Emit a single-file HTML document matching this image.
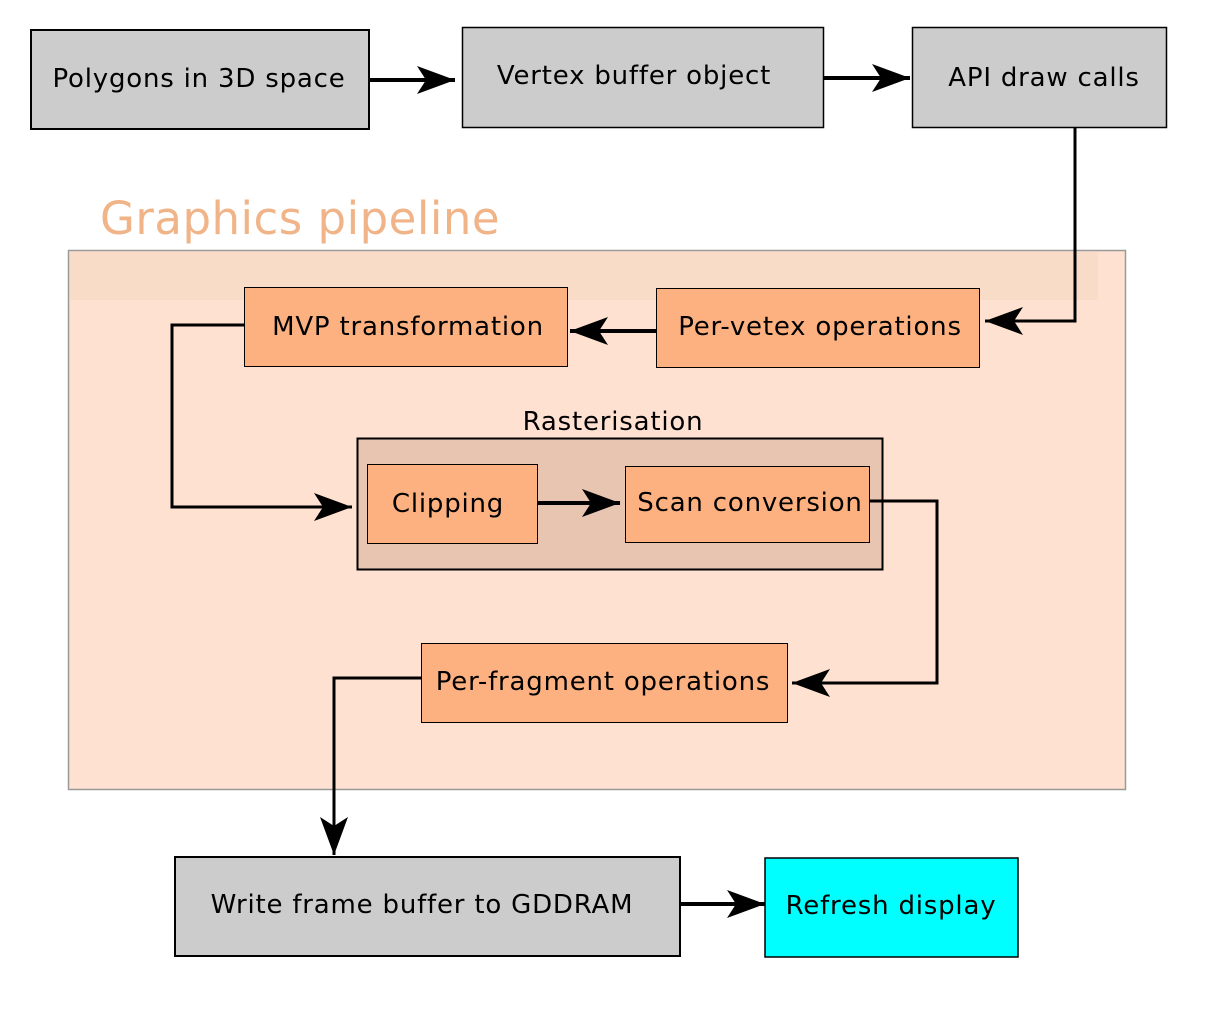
<!DOCTYPE html>
<html><head><meta charset="utf-8"><style>
html,body{margin:0;padding:0;background:#fff;}
svg text{font-family:"DejaVu Sans","Liberation Sans",sans-serif;}
</style></head><body>
<svg width="1224" height="1022" viewBox="0 0 1224 1022" xmlns="http://www.w3.org/2000/svg">
<defs>
<marker id="ah" markerWidth="40" markerHeight="30" refX="38" refY="14" orient="auto" markerUnits="userSpaceOnUse">
<path d="M0,0 L38,14 L0,28 L9,14 Z" fill="#000"/>
</marker>
</defs>
<g font-size="26" letter-spacing="0.8">
<rect x="31" y="30" width="338" height="99" fill="#cccccc" stroke="#000" stroke-width="2"/>
<text x="199" y="87" text-anchor="middle">Polygons in 3D space</text>
<rect x="462.5" y="27.5" width="361" height="100" fill="#cccccc" stroke="#000" stroke-width="1.5"/>
<text x="634" y="84" text-anchor="middle">Vertex buffer object</text>
<rect x="912.5" y="27.5" width="254" height="100" fill="#cccccc" stroke="#000" stroke-width="1.5"/>
<text x="1044" y="86" text-anchor="middle">API draw calls</text>
<line x1="369" y1="80" x2="455" y2="80" stroke="#000" stroke-width="4" marker-end="url(#ah)"/>
<line x1="824" y1="78" x2="910" y2="78" stroke="#000" stroke-width="4" marker-end="url(#ah)"/>
<text x="100" y="234" font-size="45" letter-spacing="0.5" fill="#f0b488">Graphics pipeline</text>
<rect x="68.5" y="250.5" width="1057" height="539" fill="#fee1d1" stroke="#999" stroke-width="1.5"/>
<rect x="70" y="252" width="1028" height="48" fill="#f9dcc8"/>
<polyline points="1075,128 1075,321 985,321" fill="none" stroke="#000" stroke-width="3" marker-end="url(#ah)"/>
<rect x="244.5" y="287.5" width="323" height="79" fill="#fdb181" stroke="#000" stroke-width="1"/>
<text x="408" y="335" text-anchor="middle">MVP transformation</text>
<rect x="656.5" y="288.5" width="323" height="79" fill="#fdb181" stroke="#000" stroke-width="1"/>
<text x="820" y="335" text-anchor="middle">Per-vetex operations</text>
<line x1="656" y1="331" x2="570" y2="331" stroke="#000" stroke-width="4" marker-end="url(#ah)"/>
<text x="613" y="430" text-anchor="middle">Rasterisation</text>
<rect x="357.5" y="438.5" width="525" height="131" fill="#e8c5b0" stroke="#000" stroke-width="2"/>
<rect x="367.5" y="464.5" width="170" height="79" fill="#fdb181" stroke="#000" stroke-width="1"/>
<text x="448" y="512" text-anchor="middle">Clipping</text>
<rect x="625.5" y="466.5" width="244" height="76" fill="#fdb181" stroke="#000" stroke-width="1"/>
<text x="750" y="511" text-anchor="middle">Scan conversion</text>
<line x1="537" y1="503" x2="620" y2="503" stroke="#000" stroke-width="4" marker-end="url(#ah)"/>
<polyline points="244,325 172,325 172,507 352,507" fill="none" stroke="#000" stroke-width="3" marker-end="url(#ah)"/>
<polyline points="869,501 937,501 937,683 792,683" fill="none" stroke="#000" stroke-width="3" marker-end="url(#ah)"/>
<rect x="421.5" y="643.5" width="366" height="79" fill="#fdb181" stroke="#000" stroke-width="1"/>
<text x="603" y="690" text-anchor="middle">Per-fragment operations</text>
<polyline points="421,678 334,678 334,855" fill="none" stroke="#000" stroke-width="3" marker-end="url(#ah)"/>
<rect x="175" y="857" width="505" height="99" fill="#cccccc" stroke="#000" stroke-width="2"/>
<text x="422" y="913" text-anchor="middle">Write frame buffer to GDDRAM</text>
<rect x="765" y="858" width="253" height="99" fill="#00ffff" stroke="#000" stroke-width="1.5"/>
<text x="891" y="914" text-anchor="middle">Refresh display</text>
<line x1="680" y1="904" x2="765" y2="904" stroke="#000" stroke-width="4" marker-end="url(#ah)"/>
</g>
</svg>
</body></html>
